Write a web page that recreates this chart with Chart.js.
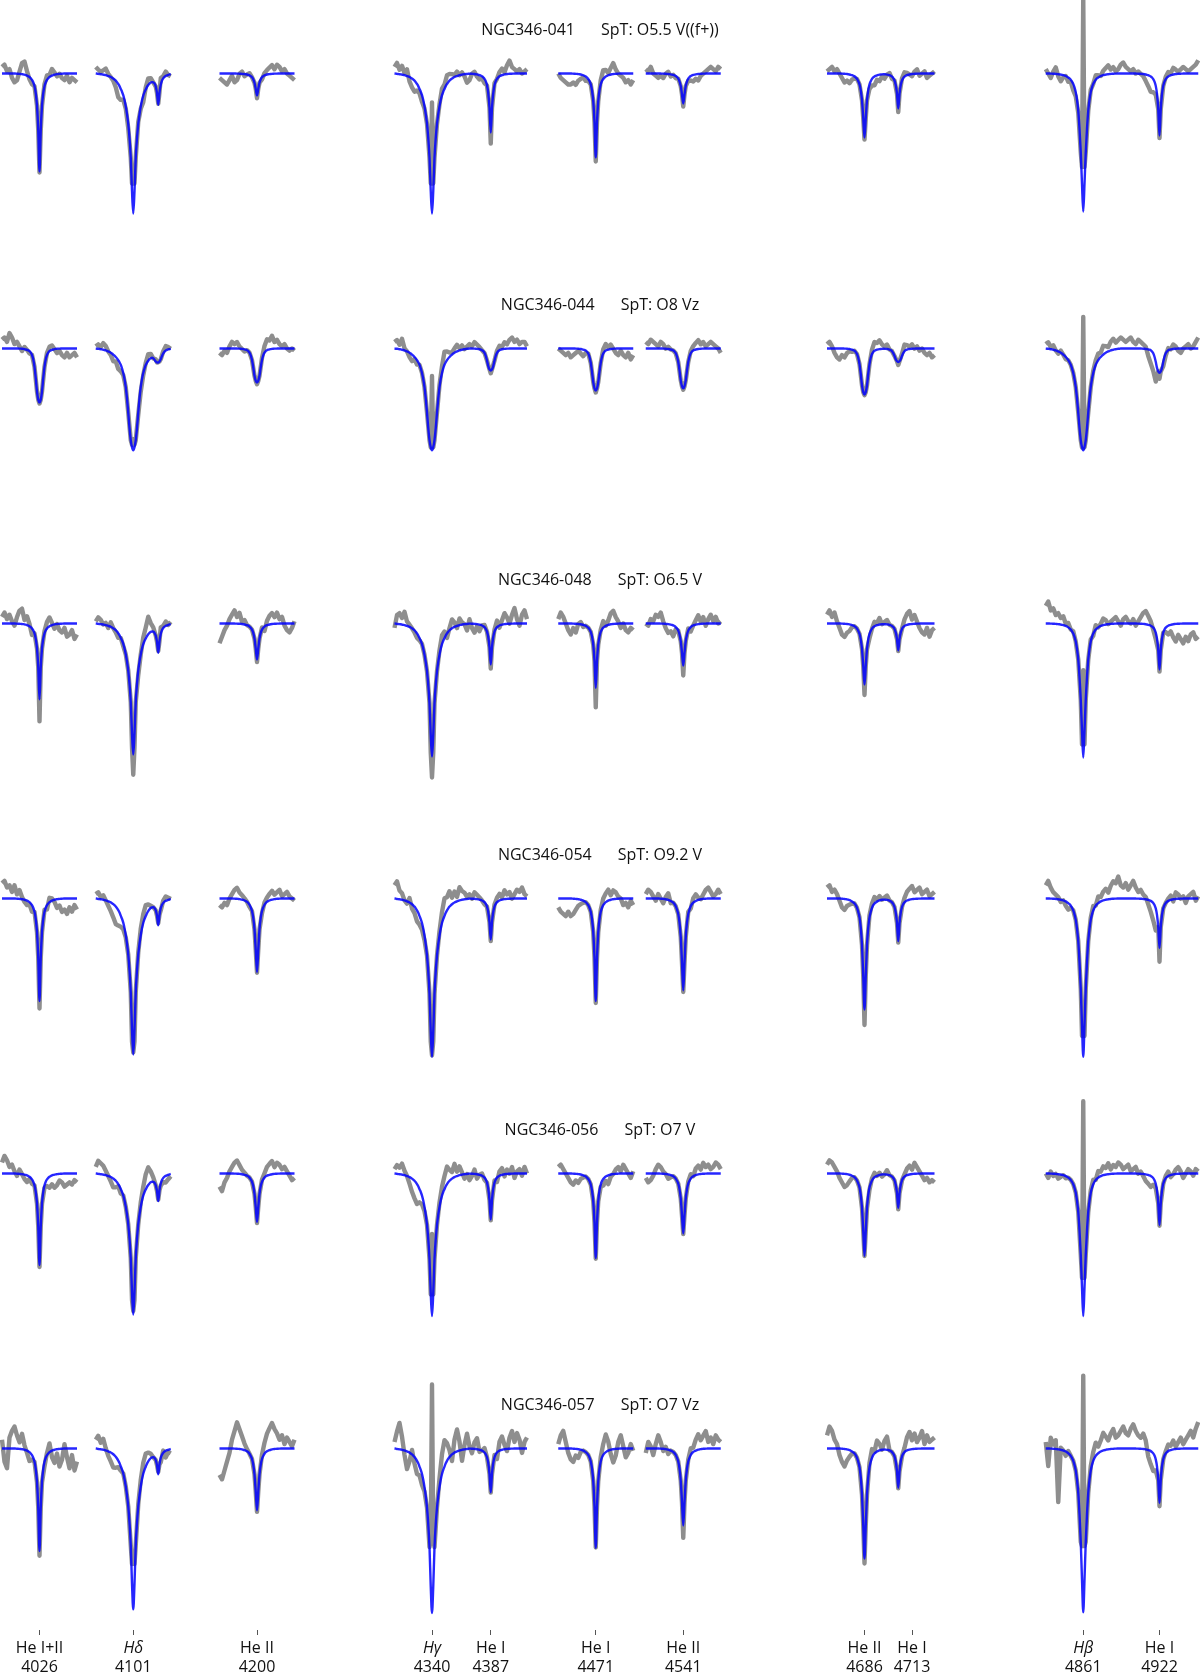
<!DOCTYPE html>
<html>
<head>
<meta charset="utf-8">
<title>NGC346 spectral fits</title>
<script src="https://cdn.jsdelivr.net/npm/chart.js@4.4.1/dist/chart.umd.min.js"></script>
<style>
html, body { margin: 0; padding: 0; background: #fff; }
#wrap { width: 1200px; height: 1675px; }
</style>
</head>
<body>
<div id="wrap"><canvas id="spec" width="1200" height="1675"></canvas></div>
<script>
// stars, one row each
var starNames = ['NGC346-041', 'NGC346-044', 'NGC346-048', 'NGC346-054', 'NGC346-056', 'NGC346-057'];
var starSpT = ['O5.5 V((f+))', 'O8 Vz', 'O6.5 V', 'O9.2 V', 'O7 V', 'O7 Vz'];

// labelled lines along the bottom (tickPos: where the label sits, 4713 is pushed right)
var tickWl = [4026, 4101, 4200, 4340, 4387, 4471, 4541, 4686, 4713, 4861, 4922];
var tickPos = [4026, 4101, 4200, 4340, 4387, 4471, 4541, 4686, 4724, 4861, 4922];
var tickIon = ['He I+II', 'H\u03b4', 'He II', 'H\u03b3', 'He I', 'He I', 'He II', 'He II', 'He I', 'H\u03b2', 'He I'];
var tickItalic = [false, true, false, true, false, false, false, false, false, true, false];

// wavelength windows that are plotted [start, end] (A)
var windows = [[3996, 4056], [4071, 4131], [4170, 4230], [4310, 4416],
               [4441, 4501], [4511, 4571], [4656, 4742], [4831, 4953]];

// all lines in the model (4121 is the small He I next to Hdelta)
var lineWl = [4026, 4101, 4121, 4200, 4340, 4387, 4471, 4541, 4686, 4713, 4861, 4922];
var balmerIdx = [1, 4, 10];

// profile shapes (relative depth at 0,1,2,... A from centre)
var shapes = {
  he:  [1, 0.58, 0.33, 0.2, 0.13, 0.09, 0.065, 0.048, 0.036, 0.028, 0.021, 0.016, 0.012, 0.009, 0.007, 0.005, 0.004, 0.003, 0.002, 0.001, 0],
  he2: [1, 0.7, 0.42, 0.26, 0.17, 0.12, 0.085, 0.06, 0.045, 0.035, 0.027, 0.02, 0.015, 0.011, 0.008, 0.006, 0.004, 0.003, 0.002, 0.001, 0],
  h:   [1, 0.84, 0.6, 0.46, 0.36, 0.29, 0.235, 0.19, 0.155, 0.13, 0.11, 0.09, 0.075, 0.062, 0.051, 0.043, 0.036, 0.03, 0.025, 0.021, 0.018, 0.015, 0.012, 0.01, 0.008, 0.006, 0.005, 0.004, 0.003, 0.001, 0],
  hb:  [1, 0.8, 0.57, 0.4, 0.27, 0.19, 0.135, 0.1, 0.075, 0.058, 0.045, 0.036, 0.029, 0.023, 0.018, 0.015, 0.012, 0.01, 0.008, 0.006, 0.005, 0.004, 0.003, 0.002, 0.002, 0.001, 0.001, 0],
  hB:  [1, 0.97, 0.9, 0.78, 0.63, 0.49, 0.38, 0.3, 0.24, 0.195, 0.16, 0.135, 0.115, 0.097, 0.083, 0.07, 0.06, 0.05, 0.042, 0.035, 0.029, 0.024, 0.019, 0.015, 0.012, 0.009, 0.007, 0.005, 0.003, 0.002, 0],
  heB: [1, 0.95, 0.8, 0.55, 0.34, 0.2, 0.12, 0.075, 0.05, 0.035, 0.025, 0.018, 0.012, 0.008, 0.005, 0.003, 0.002, 0.001, 0]
};
var narrowSet = ['he', 'h', 'he', 'he2', 'h', 'he', 'he', 'he2', 'he2', 'he', 'hb', 'he'];
var broadSet = ['heB', 'hB', 'heB', 'heB', 'hB', 'heB', 'heB', 'heB', 'heB', 'heB', 'hB', 'heB'];
var rowBroad = [false, true, false, false, false, false];

// model (blue) line depths, continuum = 1
var modelDepth = [
  [0.356, 0.509, 0.105, 0.080, 0.509, 0.215, 0.305, 0.109, 0.233, 0.127, 0.502, 0.225],
  [0.196, 0.370, 0.040, 0.124, 0.370, 0.080, 0.153, 0.145, 0.167, 0.049, 0.370, 0.088],
  [0.276, 0.476, 0.098, 0.131, 0.483, 0.149, 0.234, 0.153, 0.222, 0.098, 0.487, 0.167],
  [0.373, 0.567, 0.087, 0.268, 0.576, 0.149, 0.373, 0.334, 0.404, 0.155, 0.576, 0.180],
  [0.333, 0.513, 0.091, 0.176, 0.518, 0.167, 0.307, 0.218, 0.300, 0.125, 0.518, 0.188],
  [0.373, 0.585, 0.083, 0.225, 0.598, 0.159, 0.361, 0.280, 0.400, 0.143, 0.596, 0.198]
];
// observed (grey) depth at line centre, negative = nebular emission
var obsDepth = [
  [0.36, 0.37, 0.11, 0.09, 0.105, 0.255, 0.32, 0.12, 0.24, 0.14, -0.28, 0.235],
  [0.20, 0.33, 0.05, 0.13, 0.10, 0.09, 0.16, 0.15, 0.17, 0.06, -0.115, 0.11],
  [0.356, 0.55, 0.10, 0.14, 0.56, 0.164, 0.305, 0.189, 0.26, 0.10, 0.17, 0.175],
  [0.40, 0.56, 0.09, 0.27, 0.57, 0.155, 0.38, 0.34, 0.46, 0.16, 0.50, 0.23],
  [0.34, 0.50, 0.095, 0.18, 0.22, 0.17, 0.31, 0.22, 0.30, 0.13, -0.263, 0.19],
  [0.39, 0.40, 0.085, 0.23, -0.233, 0.16, 0.36, 0.325, 0.418, 0.145, -0.265, 0.21]
];
// observed depth 1 A either side of the Balmer centres (Hd, Hg, Hb)
var sideObs = [
  [0.40, 0.40, 0.34],
  [0.35, 0.36, 0.36],
  [0.45, 0.47, 0.44],
  [0.52, 0.52, 0.50],
  [0.46, 0.44, 0.38],
  [0.42, 0.33, 0.355]
];

// grey minus model, every 2 A from each window start (units of residUnit)
var residUnit = 0.008;
var resid041 = [
  '3 4 1 2 -2 -4 -3 1 5 6 2 -1 -2 0 0 0 0 1 2 1 3 1 -1 0 -2 -3 -1 -4 -2 -3 -4',
  '3 2 1 2 3 1 0 -1 -3 -6 -5 -2 -1 -2 0 0 0 1 -1 -3 1 3 2 0 0 2 3 1 2 0 -1',
  '-2 -3 -4 -5 -3 -1 -4 -3 0 1 -1 0 1 0 0 0 0 -1 1 2 3 4 2 4 3 1 2 0 -1 -2 -3',
  '3 5 2 4 1 3 -2 -4 -5 -3 -2 -3 -1 0 0 0 0 0 1 3 2 4 3 2 1 2 0 1 -1 -4 -3 0 1 -1 -2 -1 -2 0 0 0 1 0 2 3 1 4 6 3 2 1 2 0 1 2',
  '0 -2 -3 -4 -5 -5 -4 -5 -3 -2 -1 -2 -1 0 0 0 0 2 4 3 1 3 5 2 0 -1 -2 -4 -3 -5 -3',
  '2 1 3 0 -1 -2 -1 -2 0 1 -1 0 -1 0 0 0 0 -1 -2 -3 -2 -3 -1 0 1 2 3 2 1 3 2',
  '1 2 3 1 2 0 -2 -4 -3 -4 -2 -1 0 0 0 0 0 -2 -3 -4 -2 -3 -1 -2 0 1 -1 0 0 0 1 2 1 0 -1 1 2 -1 0 1 -2 -1 0 1',
  '2 0 -2 1 3 -1 -3 -1 0 -2 -1 -3 -2 -1 0 0 0 0 1 0 2 1 0 2 3 4 2 3 1 2 4 5 3 2 1 2 0 1 0 -1 -3 -5 -7 -6 -4 0 0 0 1 2 1 3 2 1 2 3 2 1 2 3 4 6'
];
var resid044 = [
  '4 5 3 7 5 2 3 1 -1 1 0 -1 0 0 0 0 0 0 1 2 2 0 -2 -1 -3 -4 -2 -4 -3 -2 -4',
  '1 2 1 3 2 0 -1 -3 -2 -4 -3 -1 0 0 0 0 0 -1 -2 -1 1 3 2 0 1 2 0 1 2 1 0',
  '-2 -3 -1 -2 1 3 2 3 1 0 -1 0 0 0 0 0 0 1 3 5 4 6 3 4 2 1 2 0 -1 0 -1',
  '3 4 2 5 1 0 -2 -3 -1 -2 0 0 0 0 0 0 0 0 1 3 6 4 2 1 2 3 1 2 0 1 2 1 3 2 1 0 0 0 0 0 0 1 2 1 3 2 4 5 3 4 2 3 3 1',
  '0 -1 -2 -3 -2 -4 -3 -2 -1 -2 -3 -1 0 0 0 0 0 0 2 3 1 2 0 -2 -3 -1 -3 -4 -2 -5 -3',
  '3 2 4 3 2 1 3 2 0 1 0 0 0 0 0 0 0 0 1 2 3 4 2 3 1 2 3 2 1 0 -2',
  '2 3 1 -2 -4 -5 -3 -4 -2 -1 -1 0 0 0 0 0 0 0 2 4 3 4 2 1 2 0 0 0 0 0 1 3 2 1 2 0 1 -1 0 -2 -3 -2 -4 -3',
  '2 3 1 2 0 -1 1 0 -1 0 0 0 0 0 0 0 0 0 0 1 2 3 2 4 3 2 4 5 3 4 5 4 3 4 5 3 2 4 3 2 1 -3 -6 -8 -9 -5 0 -2 -1 1 0 2 1 -1 -2 0 1 2 0 1 3 5'
];
var resid048 = [
  '3 5 2 4 1 -1 3 6 7 2 4 1 -3 0 0 0 0 1 3 4 1 -2 0 -3 -4 -2 -6 -5 -3 -7 -5',
  '1 3 2 0 1 -1 2 0 -1 -2 0 -1 0 0 0 0 0 -2 0 3 5 8 4 2 0 1 3 1 2 0 1',
  '-9 -6 -3 -1 2 4 6 3 5 1 2 0 0 0 0 0 0 1 -2 2 4 5 3 5 2 3 -1 -3 -4 -2 1',
  '-2 4 5 3 6 2 1 0 -1 -2 -1 0 0 0 0 0 0 0 2 4 3 -2 1 4 2 -1 3 1 0 -3 2 -2 -4 -1 -3 0 1 0 0 0 1 3 -1 2 5 3 0 4 7 2 -1 4 6 2',
  '2 5 3 0 -3 -5 -2 -4 0 1 -1 0 0 0 0 0 0 1 3 0 2 5 6 3 1 -2 0 -3 -4 -2 -3',
  '0 -1 2 1 4 3 5 1 -2 -4 -3 -5 -1 0 0 0 0 1 -2 0 2 4 1 3 -1 2 4 1 3 0 1',
  '4 6 3 5 1 -2 -5 -6 -4 -3 -1 0 0 0 0 0 0 -2 0 2 1 3 0 1 2 0 0 0 0 0 0 3 5 6 2 4 1 -2 -4 -5 -2 -6 -3 -2',
  '8 10 6 7 4 5 3 4 1 2 0 1 0 0 0 0 0 0 1 -1 2 0 1 3 2 0 1 2 3 1 -1 2 3 1 0 2 -1 1 3 5 6 4 2 -1 -3 0 0 0 -2 -4 -3 -6 -8 -5 -7 -9 -6 -8 -5 -4 -7 -6'
];
var resid054 = [
  '7 8 5 6 3 6 2 4 1 -1 -2 -1 -3 0 0 0 0 1 -2 2 1 -1 -4 -3 -6 -5 -7 -4 -6 -3 -5',
  '2 3 1 2 0 -2 -4 -6 -8 -7 -5 -3 -1 0 0 0 0 1 3 4 5 3 1 0 0 0 -1 1 2 1 0',
  '-3 -4 -2 -3 0 2 4 5 3 2 1 0 -1 0 0 0 0 -1 1 2 3 4 2 3 4 1 2 3 1 0 -1',
  '6 8 4 3 0 -1 2 -2 -3 -5 -4 -3 -2 0 0 0 0 0 2 5 8 6 7 3 5 2 6 4 3 1 2 0 3 2 1 0 -1 0 0 0 1 2 3 1 4 2 3 0 2 4 3 5 2 1',
  '-4 -6 -7 -8 -6 -8 -7 -5 -3 -2 -1 0 0 0 0 0 0 1 3 4 5 2 4 3 1 0 -3 -2 -4 -1 -3',
  '2 4 3 1 -1 2 0 -2 1 3 -1 0 0 0 0 0 0 1 -1 2 3 1 0 2 4 5 3 1 2 4 2',
  '5 6 3 4 2 -1 -4 -5 -3 -2 -1 0 0 0 0 0 0 1 2 3 1 2 0 1 2 0 0 0 0 0 0 2 4 5 6 3 4 5 2 3 4 1 2 3',
  '6 8 5 3 2 1 -1 0 -2 -3 -1 0 0 0 0 0 0 0 1 2 0 3 2 4 5 3 6 8 7 10 6 5 7 4 6 8 5 3 4 2 1 -2 -5 -8 -10 -6 0 0 0 1 2 -1 3 2 0 1 -2 1 2 3 -1 1'
];
var resid056 = [
  '5 8 6 3 4 1 -1 2 0 -2 -3 -1 -2 0 0 0 0 -1 -3 -5 -4 -6 -5 -3 -4 -6 -5 -4 -5 -3 -4',
  '3 6 5 4 2 0 -2 -4 -3 -1 -2 0 0 0 0 0 0 0 2 4 7 8 5 2 0 0 -1 -2 -3 -2 -1',
  '-6 -8 -4 -2 1 3 5 6 4 2 1 0 0 0 0 0 0 1 2 4 5 6 3 5 4 2 3 1 -1 -3 -2',
  '2 4 3 5 2 0 -3 -6 -8 -9 -6 -4 -2 0 0 0 0 0 2 4 6 8 5 3 6 2 4 1 -2 0 -3 -1 2 -2 0 1 -1 0 0 0 1 -2 2 3 -1 2 0 3 -2 1 2 -1 3 0',
  '3 4 2 0 -2 -4 -5 -3 -4 -2 -1 0 0 0 0 0 0 -1 -3 -2 -4 -1 0 2 3 1 4 2 0 -2 1',
  '-2 -4 -3 -1 2 4 3 1 0 -2 -1 0 0 0 0 0 0 1 2 0 3 4 2 5 3 4 2 3 5 4 2',
  '4 6 5 3 1 -2 -4 -6 -5 -3 -1 0 0 0 0 0 0 -1 1 2 0 1 -1 0 2 0 0 0 0 0 0 1 3 4 2 5 3 1 -1 -3 -2 -4 -3 -4',
  '0 -2 1 -1 0 -2 -1 0 -1 0 0 0 0 0 0 0 0 0 1 2 0 3 2 4 3 5 2 4 3 5 4 2 3 4 1 2 3 0 1 -1 -3 -4 -5 -3 -2 0 0 0 1 2 -1 0 2 3 1 -2 0 2 1 -1 2 1'
];
var resid057 = [
  '4 -6 -9 5 8 10 6 3 7 2 -1 -4 -2 0 0 0 0 -2 1 4 -3 -6 -2 -8 -5 2 -4 -9 -3 -10 -6',
  '4 6 3 5 1 -2 -4 -6 -5 -3 -2 0 0 0 0 0 0 1 3 5 6 4 2 0 0 0 -2 1 -3 -1 -2',
  '-12 -14 -10 -6 -2 4 8 12 9 6 3 1 0 0 0 0 0 2 5 8 10 12 9 7 4 6 2 5 3 1 4',
  '3 8 12 6 -2 -8 -4 2 -3 -6 -4 -5 -2 0 0 0 0 0 4 9 12 8 3 -3 6 10 4 -5 2 7 1 -2 3 5 -1 0 2 0 0 0 1 -3 4 6 2 -1 5 8 3 7 4 -2 3 5',
  '2 6 8 3 -2 -5 -6 -3 -4 -1 0 0 0 0 0 0 0 2 5 8 4 -2 -6 -3 3 6 1 -4 -2 2 -1',
  '-2 3 1 -3 2 6 3 -1 1 -2 0 0 0 0 0 0 0 1 3 2 5 7 4 6 8 3 5 2 6 4 3',
  '6 10 8 4 2 -3 -6 -8 -5 -3 -1 0 0 0 0 0 0 2 4 1 5 3 0 4 6 0 0 0 0 0 0 2 6 8 4 7 3 5 8 2 6 3 4 5',
  '3 -8 5 2 4 -24 1 0 -2 1 0 0 0 0 0 0 0 0 2 4 6 3 5 8 6 4 7 9 5 6 8 10 7 6 9 11 8 6 5 7 4 -3 -6 -8 -5 -2 0 0 1 3 2 4 1 3 5 2 4 6 8 5 9 12'
];
var residuals = [resid041, resid044, resid048, resid054, resid056, resid057];

// each row sits one continuum unit below the previous one
var yTop = 1 + 73.5 / 275;
var yBottom = yTop - 1630 / 275;
var titleLift = 0.158;

function shapeAt(name, off) {
  var t = shapes[name], k = Math.abs(off);
  return k < t.length ? t[k] : 0;
}

function modelFlux(r, wl) {
  var set = rowBroad[r] ? broadSet : narrowSet;
  var f = 1;
  for (var k = 0; k < lineWl.length; k++) {
    f -= modelDepth[r][k] * shapeAt(set[k], wl - lineWl[k]);
  }
  return f;
}

function modelRow(r) {
  var pts = [];
  windows.forEach(function (w) {
    for (var wl = w[0]; wl <= w[1]; wl++) pts.push({ x: wl, y: modelFlux(r, wl) - r });
    pts.push({ x: w[1] + 5, y: null });
  });
  return pts;
}

function observedRow(r) {
  var pts = [];
  windows.forEach(function (w, wi) {
    var res = residuals[r][wi].trim().split(/\s+/).map(Number);
    var m = new Map();
    for (var i = 0; w[0] + 2 * i <= w[1]; i++) {
      var wl = w[0] + 2 * i;
      m.set(wl, modelFlux(r, wl) + (res[i] || 0) * residUnit);
    }
    lineWl.forEach(function (c, k) {
      if (c < w[0] || c > w[1]) return;
      var b = balmerIdx.indexOf(k);
      [-1, 1].forEach(function (d) {
        m.set(c + d, b >= 0 ? 1 - sideObs[r][b] : modelFlux(r, c + d));
      });
      m.set(c, 1 - obsDepth[r][k]);
    });
    Array.from(m.keys()).sort(function (a, b) { return a - b; }).forEach(function (x) {
      pts.push({ x: x, y: m.get(x) - r });
    });
    pts.push({ x: w[1] + 5, y: null });
  });
  return pts;
}

var datasets = [];
starNames.forEach(function (nm, r) {
  datasets.push({
    label: nm + ' observed',
    data: observedRow(r),
    borderColor: '#8e8e8e',
    borderWidth: 4.4,
    borderJoinStyle: 'round',
    pointRadius: 0,
    tension: 0,
    spanGaps: false,
    order: 2
  });
  datasets.push({
    label: nm + ' model',
    data: modelRow(r),
    borderColor: 'rgba(0,0,255,0.85)',
    borderWidth: 2.4,
    borderJoinStyle: 'round',
    pointRadius: 0,
    cubicInterpolationMode: 'monotone',
    spanGaps: false,
    order: 1
  });
});

var textPlugin = {
  id: 'panelText',
  afterDraw: function (chart) {
    var ctx = chart.ctx, x = chart.scales.x, y = chart.scales.y;
    ctx.save();
    ctx.fillStyle = '#111';
    ctx.textBaseline = 'middle';
    ctx.textAlign = 'center';
    tickWl.forEach(function (wl, i) {
      var px = x.getPixelForValue(tickPos[i]);
      ctx.font = (tickItalic[i] ? 'italic ' : '') + '16px "Open Sans"';
      ctx.fillText(tickIon[i], px, x.top + 18);
      ctx.font = '16px "Open Sans"';
      ctx.fillText(String(wl), px, x.top + 37);
    });
    ctx.font = '16px "Open Sans"';
    ctx.textAlign = 'left';
    var gap = 26, cx = (x.left + x.right) / 2;
    starNames.forEach(function (nm, r) {
      var py = y.getPixelForValue(1 - r + titleLift);
      var b = 'SpT: ' + starSpT[r];
      var wa = ctx.measureText(nm).width, wb = ctx.measureText(b).width;
      var x0 = cx - (wa + gap + wb) / 2;
      ctx.fillText(nm, x0, py);
      ctx.fillText(b, x0 + wa + gap, py);
    });
    ctx.restore();
  }
};

new Chart(document.getElementById('spec'), {
  type: 'line',
  data: { datasets: datasets },
  options: {
    responsive: false,
    animation: false,
    devicePixelRatio: 1,
    layout: { padding: 0 },
    plugins: { legend: { display: false }, tooltip: { enabled: false } },
    scales: {
      x: {
        type: 'linear',
        min: 3994.4,
        max: 4954.4,
        afterBuildTicks: function (s) { s.ticks = tickPos.map(function (v) { return { value: v }; }); },
        afterFit: function (s) { s.height = 45; },
        ticks: { display: false },
        grid: { drawOnChartArea: false, drawTicks: true, tickLength: 5, color: '#555', lineWidth: 1 },
        border: { display: false }
      },
      y: {
        type: 'linear',
        display: false,
        min: yBottom,
        max: yTop
      }
    }
  },
  plugins: [textPlugin]
});
</script>
</body>
</html>
